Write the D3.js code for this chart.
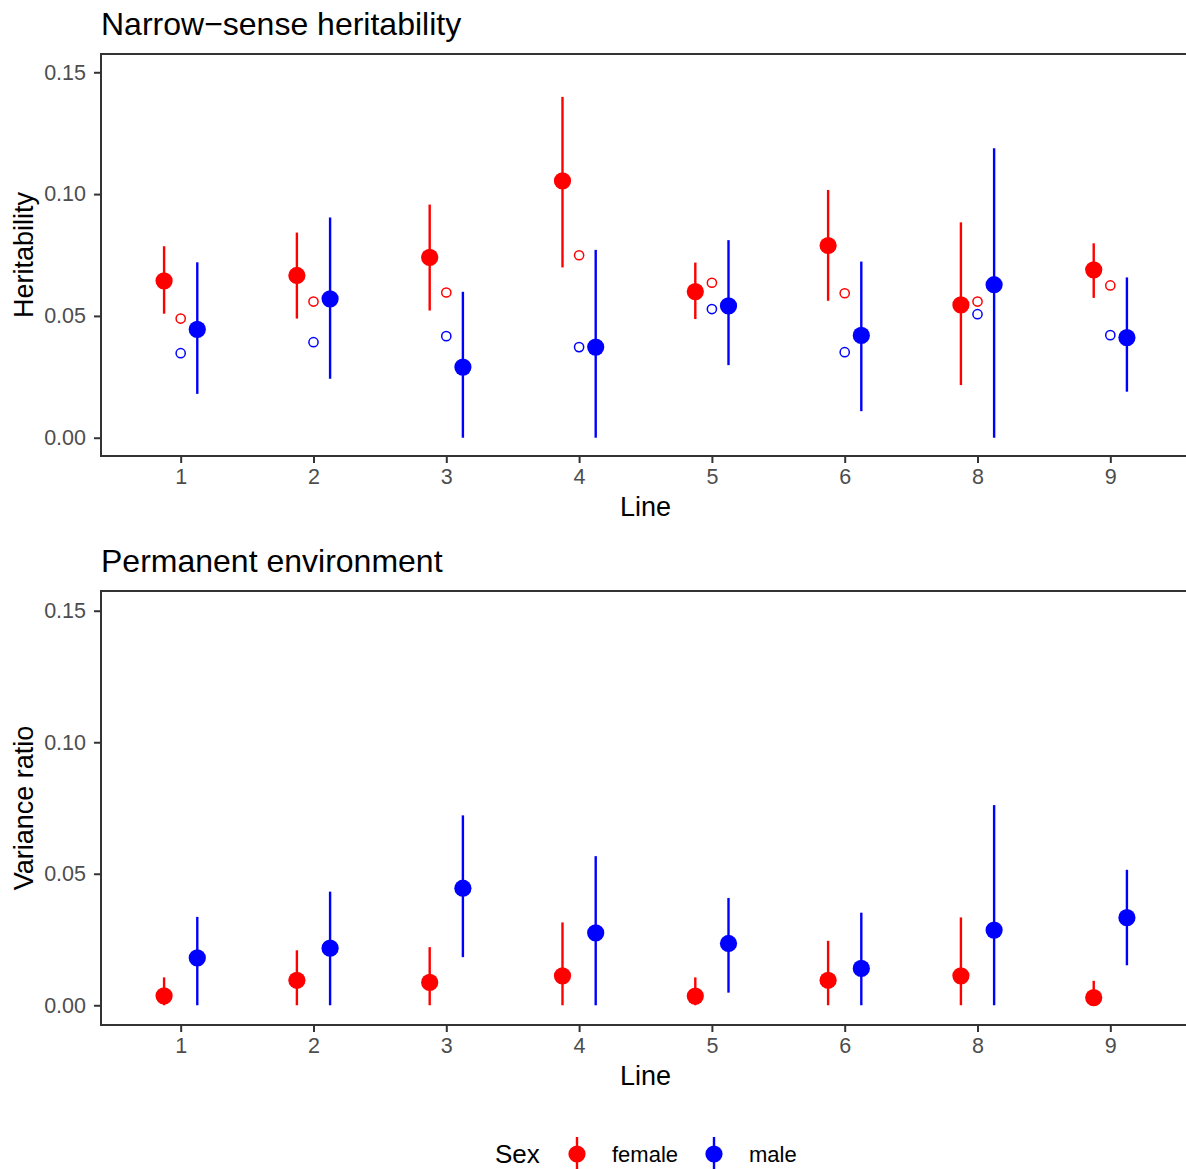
<!DOCTYPE html>
<html>
<head>
<meta charset="utf-8">
<script src="https://cdn.jsdelivr.net/npm/d3@7"></script>
<style>
  html, body { margin: 0; padding: 0; background: #fff; }
  svg { display: block; }
  text { font-family: "Liberation Sans", Arial, Helvetica, sans-serif; }
</style>
</head>
<body>
<svg id="chart" width="1186" height="1169"></svg>
<script>
// Lines (categories on the x axis)
const lines = ["1", "2", "3", "4", "5", "6", "8", "9"];
const yTicks = [0, 0.05, 0.10, 0.15];

// Narrow-sense heritability: estimate and interval per sex
const femaleH   = [0.0644, 0.0666, 0.0740, 0.1054, 0.0600, 0.0789, 0.0545, 0.0689];
const femaleHLo = [0.0509, 0.0489, 0.0522, 0.0699, 0.0487, 0.0562, 0.0216, 0.0574];
const femaleHHi = [0.0786, 0.0842, 0.0957, 0.1399, 0.0719, 0.1017, 0.0884, 0.0798];
const maleH     = [0.0445, 0.0570, 0.0290, 0.0372, 0.0541, 0.0420, 0.0628, 0.0411];
const maleHLo   = [0.0180, 0.0242, 0.0000, 0.0000, 0.0298, 0.0109, 0.0000, 0.0189];
const maleHHi   = [0.0720, 0.0904, 0.0599, 0.0771, 0.0811, 0.0723, 0.1188, 0.0658];
// Alternative heritability estimates (open circles)
const femaleHAlt = [0.0489, 0.0559, 0.0596, 0.0749, 0.0636, 0.0593, 0.0559, 0.0625];
const maleHAlt   = [0.0347, 0.0392, 0.0417, 0.0372, 0.0528, 0.0351, 0.0507, 0.0421];

// Permanent environment variance ratio per sex
const femalePE   = [0.0036, 0.0095, 0.0087, 0.0112, 0.0035, 0.0095, 0.0112, 0.0029];
const femalePELo = [0.0000, 0.0000, 0.0000, 0.0000, 0.0000, 0.0000, 0.0000, 0.0000];
const femalePEHi = [0.0106, 0.0209, 0.0221, 0.0315, 0.0106, 0.0245, 0.0334, 0.0093];
const malePE     = [0.0180, 0.0217, 0.0445, 0.0275, 0.0235, 0.0140, 0.0286, 0.0333];
const malePELo   = [0.0000, 0.0000, 0.0183, 0.0000, 0.0048, 0.0000, 0.0000, 0.0152];
const malePEHi   = [0.0336, 0.0432, 0.0722, 0.0567, 0.0408, 0.0352, 0.0761, 0.0515];

const sexes = ["female", "male"];
const sexColor = d3.scaleOrdinal().domain(sexes).range(["#FF0000", "#0000FF"]);

const svg = d3.select("#chart");
const font = '"Liberation Sans", Arial, Helvetica, sans-serif';

const panelLeft = 101, panelRight = 1190;
const x = d3.scalePoint().domain(lines).range([panelLeft, panelRight]).padding(0.6);
const dodge = x.step() * 0.125;
const yDomain = [-0.0075, 0.1575];

function buildRows(est, lo, hi, sex) {
  return lines.map((l, i) => ({ line: l, sex, est: est[i], lo: lo[i], hi: hi[i] }));
}

function drawPanel(cfg) {
  const { top, bottom, title, yTitle, rows, alt } = cfg;
  const y = d3.scaleLinear().domain(yDomain).range([bottom, top]);
  const g = svg.append("g");

  // title
  g.append("text")
    .attr("x", panelLeft).attr("y", top - 19)
    .attr("font-size", 32).attr("fill", "#000")
    .text(title);

  // y axis
  const yAxis = d3.axisLeft(y).tickValues(yTicks).tickFormat(d3.format(".2f"))
    .tickSizeInner(7).tickSizeOuter(0).tickPadding(8);
  const ya = g.append("g").attr("transform", `translate(${panelLeft},0)`).call(yAxis);
  ya.select(".domain").remove();
  ya.selectAll(".tick line").attr("stroke", "#333333").attr("stroke-width", 2);
  ya.selectAll(".tick text").attr("fill", "#4D4D4D").attr("font-size", 21.5).attr("font-family", font);

  // x axis
  const xAxis = d3.axisBottom(x).tickSizeInner(7).tickSizeOuter(0).tickPadding(6);
  const xa = g.append("g").attr("transform", `translate(0,${bottom})`).call(xAxis);
  xa.select(".domain").remove();
  xa.selectAll(".tick line").attr("stroke", "#333333").attr("stroke-width", 2);
  xa.selectAll(".tick text").attr("fill", "#4D4D4D").attr("font-size", 21.5).attr("font-family", font);

  // axis titles
  g.append("text")
    .attr("x", (panelLeft + panelRight) / 2).attr("y", bottom + 60)
    .attr("text-anchor", "middle").attr("font-size", 27).attr("fill", "#000")
    .text("Line");
  g.append("text")
    .attr("transform", `translate(33,${(top + bottom) / 2}) rotate(-90)`)
    .attr("text-anchor", "middle").attr("font-size", 27).attr("fill", "#000")
    .text(yTitle);

  const off = s => (s === "female" ? -dodge : dodge);

  // error bars
  g.append("g").selectAll("line").data(rows).join("line")
    .attr("x1", d => x(d.line) + off(d.sex)).attr("x2", d => x(d.line) + off(d.sex))
    .attr("y1", d => y(d.lo)).attr("y2", d => y(d.hi))
    .attr("stroke", d => sexColor(d.sex)).attr("stroke-width", 2.4);

  // estimates
  g.append("g").selectAll("circle").data(rows).join("circle")
    .attr("cx", d => x(d.line) + off(d.sex)).attr("cy", d => y(d.est))
    .attr("r", 8.6).attr("fill", d => sexColor(d.sex));

  // alternative estimates (open circles at the line centre)
  if (alt) {
    g.append("g").selectAll("circle").data(alt).join("circle")
      .attr("cx", d => x(d.line)).attr("cy", d => y(d.est))
      .attr("r", 4.6).attr("fill", "none")
      .attr("stroke", d => sexColor(d.sex)).attr("stroke-width", 1.5);
  }

  // panel border
  g.append("rect")
    .attr("x", panelLeft).attr("y", top)
    .attr("width", panelRight - panelLeft).attr("height", bottom - top)
    .attr("fill", "none").attr("stroke", "#333333").attr("stroke-width", 2);
}

drawPanel({
  top: 54, bottom: 456,
  title: "Narrow\u2212sense heritability",
  yTitle: "Heritability",
  rows: buildRows(femaleH, femaleHLo, femaleHHi, "female").concat(buildRows(maleH, maleHLo, maleHHi, "male")),
  alt: lines.map((l, i) => ({ line: l, sex: "female", est: femaleHAlt[i] }))
        .concat(lines.map((l, i) => ({ line: l, sex: "male", est: maleHAlt[i] })))
});

drawPanel({
  top: 591, bottom: 1025,
  title: "Permanent environment",
  yTitle: "Variance ratio",
  rows: buildRows(femalePE, femalePELo, femalePEHi, "female").concat(buildRows(malePE, malePELo, malePEHi, "male"))
});

// legend
const legend = svg.append("g");
legend.append("text").attr("x", 495).attr("y", 1163)
  .attr("font-size", 26).attr("fill", "#000").text("Sex");
const keyX = { female: 577, male: 714 };
sexes.forEach(s => {
  const kx = keyX[s];
  legend.append("line").attr("x1", kx).attr("x2", kx).attr("y1", 1137).attr("y2", 1172)
    .attr("stroke", sexColor(s)).attr("stroke-width", 2.4);
  legend.append("circle").attr("cx", kx).attr("cy", 1154).attr("r", 8.6).attr("fill", sexColor(s));
  legend.append("text").attr("x", kx + 35).attr("y", 1162)
    .attr("font-size", 22).attr("fill", "#000").text(s);
});
</script>
</body>
</html>
